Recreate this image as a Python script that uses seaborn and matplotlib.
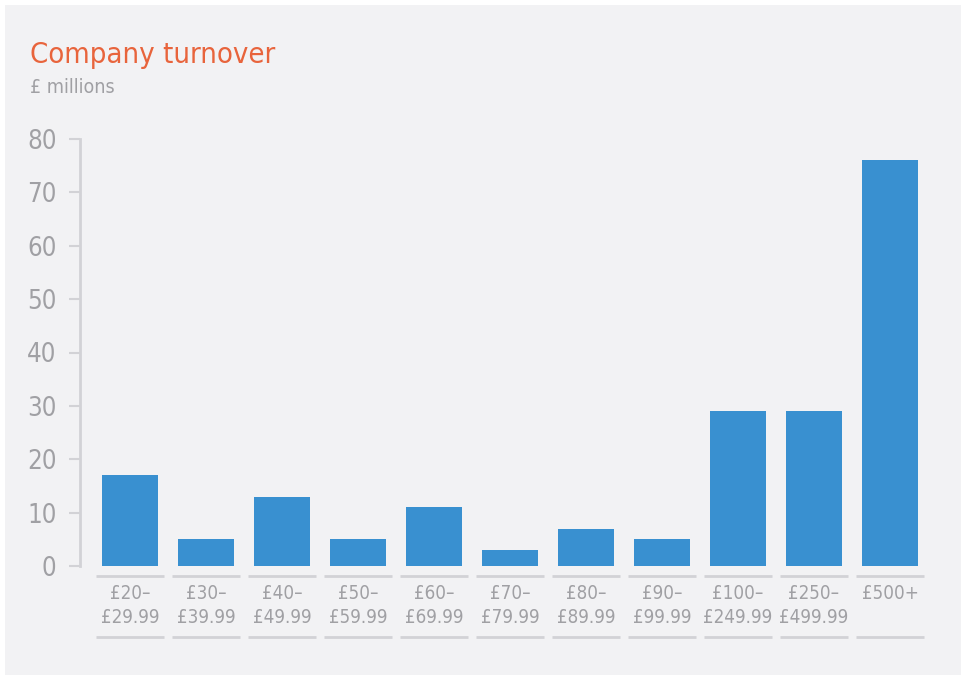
import matplotlib
matplotlib.use("Agg")
import matplotlib.pyplot as plt
import matplotlib.transforms as mtransforms
from matplotlib.patches import Rectangle
import seaborn as sns
import pandas as pd

# Turnover bands and number of companies in each
bands = ["£20–\n£29.99", "£30–\n£39.99", "£40–\n£49.99", "£50–\n£59.99",
         "£60–\n£69.99", "£70–\n£79.99", "£80–\n£89.99", "£90–\n£99.99",
         "£100–\n£249.99", "£250–\n£499.99", "£500+"]
counts = [17, 5, 13, 5, 11, 3, 7, 5, 29, 29, 76]
y_ticks = [0, 10, 20, 30, 40, 50, 60, 70, 80]

sns.set_theme(style="white")
plt.rcParams["font.family"] = ["DejaVu Sans"]
plt.rcParams["font.stretch"] = "condensed"

BG = "#f2f2f4"
GRID = "#d2d2d6"
TXT = "#a0a0a4"
BAR = "#3990d0"

W, H = 962, 675
fig = plt.figure(figsize=(W / 100, H / 100), dpi=100, facecolor="white")
fig.patches.append(Rectangle((5 / W, 0), 1, 1 - 5 / H, transform=fig.transFigure,
                             facecolor=BG, edgecolor="none", zorder=-10))

ax = fig.add_axes([80 / W, 1 - 566 / H, 850 / W, (566 - 139) / H])
ax.set_facecolor("none")

df = pd.DataFrame({"band": bands, "count": counts})
sns.barplot(data=df, x="band", y="count", color=BAR, saturation=1,
            width=56 / 76, linewidth=0, ax=ax, zorder=3)

ax.set_xlim(-50 / 76, 800 / 76)
ax.set_ylim(0, 80)
ax.set_yticks(y_ticks)
ax.set_xlabel("")
ax.set_ylabel("")

for s in ["top", "right", "bottom"]:
    ax.spines[s].set_visible(False)
ax.spines["left"].set_color(GRID)
ax.spines["left"].set_linewidth(2)
ax.spines["left"].set_bounds(0, 80)

ax.tick_params(axis="y", which="major", left=True, length=8, width=1.5,
               color=GRID, pad=9, labelsize=18.5, labelcolor=TXT)
ax.tick_params(axis="x", which="major", bottom=False, length=0, pad=13,
               labelsize=13.5, labelcolor=TXT)
for lbl in ax.get_xticklabels():
    lbl.set_linespacing(1.3)

# Category separator lines above and below each band label
trans = mtransforms.blended_transform_factory(ax.transData, fig.transFigure)
for i in range(len(bands)):
    for ypx in (576, 637):
        ax.plot([i - 34 / 76, i + 34 / 76], [1 - ypx / H] * 2, transform=trans,
                color=GRID, lw=2, clip_on=False, solid_capstyle="butt")

fig.text(30 / W, 1 - 63 / H, "Company turnover", color="#e8643c",
         fontsize=21, ha="left", va="baseline")
fig.text(30 / W, 1 - 93 / H, "£ millions", color=TXT,
         fontsize=14, ha="left", va="baseline")

fig.savefig("out.png", dpi=100, facecolor="white")
